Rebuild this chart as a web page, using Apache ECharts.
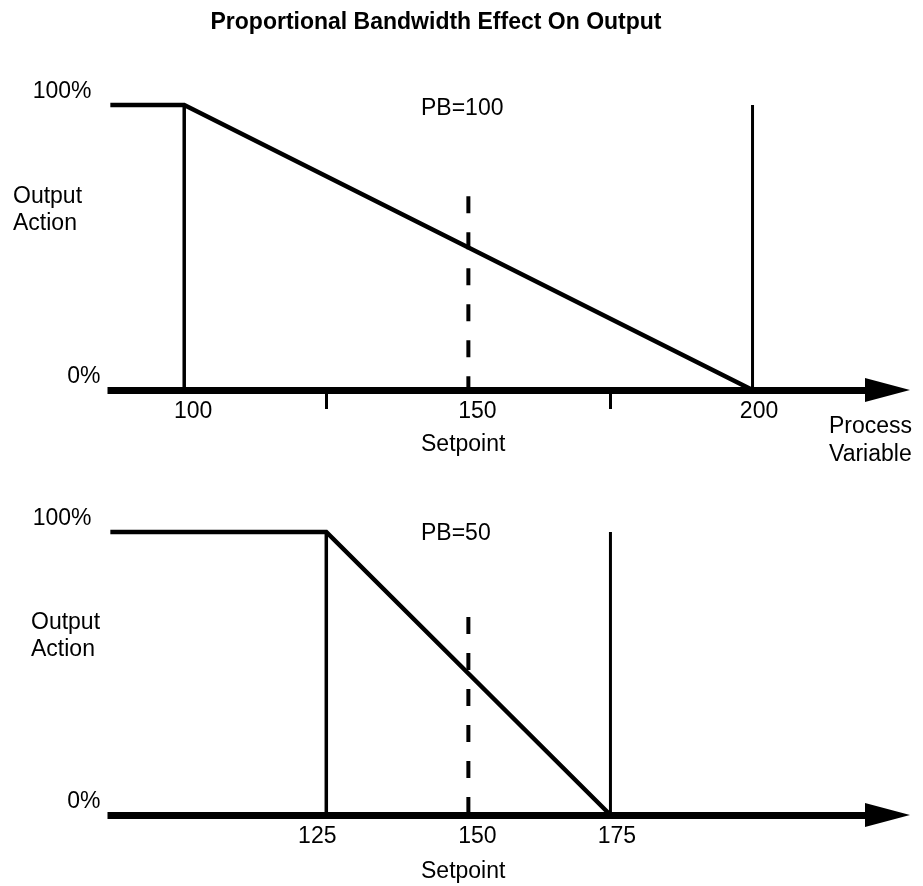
<!DOCTYPE html>
<html>
<head>
<meta charset="utf-8">
<title>Proportional Bandwidth Effect On Output</title>
<script src="https://cdn.jsdelivr.net/npm/echarts@6/dist/echarts.min.js"></script>
<style>
  html, body { margin: 0; padding: 0; background: #fff; }
  #pbChart { width: 923px; height: 886px; }
</style>
</head>
<body>
<div id="pbChart"></div>
<script>
// chart data
const xMin = 86.5;
const xMax = 223.75;
const setpoint = 150;
const yTickLabels = [0, 100];

// PB=100 panel
const xTickLabels1 = [100, 150, 200];
const xMinorTicks1 = [125, 175];
const bandEdges1 = [100, 200];
const outputPB100 = [[87, 100], [100, 100], [200, 0]];
const setpointTop1 = 68;

// PB=50 panel
const xTickLabels2 = [125, 150, 175];
const bandEdges2 = [125, 175];
const outputPB50 = [[87, 100], [125, 100], [175, 0]];
const setpointTop2 = 70;

const FONT = '"Liberation Sans", Arial, sans-serif';
const BLACK = '#000';

function txt(text, left, top, lineHeight, extra) {
  return Object.assign({
    text: text,
    left: left,
    top: top,
    padding: 0,
    textStyle: {
      fontFamily: FONT,
      fontSize: 23,
      fontWeight: 'normal',
      color: BLACK,
      lineHeight: lineHeight
    }
  }, extra || {});
}

// label nudges, the original drawing doesn't centre them exactly on the ticks
const labelRich = {
  r18: { fontFamily: FONT, fontSize: 23, color: BLACK, padding: [0, 0, 0, 18] },
  r13: { fontFamily: FONT, fontSize: 23, color: BLACK, padding: [0, 0, 0, 13] },
  l18: { fontFamily: FONT, fontSize: 23, color: BLACK, padding: [0, 18, 0, 0] }
};

function xAxisFor(gridIndex, labels, minorTicks, nudge) {
  return {
    type: 'value',
    gridIndex: gridIndex,
    min: xMin,
    max: xMax,
    splitLine: { show: false },
    axisLine: {
      show: true,
      symbol: ['none', 'triangle'],
      symbolSize: [24, 45],
      lineStyle: { color: BLACK, width: 7, cap: 'butt' }
    },
    axisTick: {
      show: minorTicks.length > 0,
      customValues: minorTicks,
      length: 19,
      lineStyle: { color: BLACK, width: 3, cap: 'butt' }
    },
    axisLabel: {
      customValues: labels,
      margin: 10,
      fontFamily: FONT,
      fontSize: 23,
      color: BLACK,
      formatter: function (v) {
        const k = nudge[v];
        return k ? '{' + k + '|' + v + '}' : '' + v;
      },
      rich: labelRich
    }
  };
}

function yAxisFor(gridIndex) {
  return {
    type: 'value',
    gridIndex: gridIndex,
    min: 0,
    max: 100,
    splitLine: { show: false },
    axisLine: { show: false },
    axisTick: { show: false },
    axisLabel: {
      customValues: yTickLabels,
      margin: 7,
      verticalAlign: 'bottom',
      fontFamily: FONT,
      fontSize: 23,
      lineHeight: 23,
      color: BLACK,
      padding: [0, 0, 2, 0],
      formatter: function (v) {
        return v === 100 ? '{a|' + v + '%}' : v + '%';
      },
      rich: {
        a: { fontFamily: FONT, fontSize: 23, color: BLACK, padding: [0, 9, 0, 0] }
      }
    }
  };
}

function lineSeries(data, axisIdx, width, dashed) {
  return {
    type: 'line',
    xAxisIndex: axisIdx,
    yAxisIndex: axisIdx,
    data: data,
    symbol: 'none',
    clip: false,
    silent: true,
    lineStyle: {
      color: BLACK,
      width: width,
      type: dashed ? [17, 19] : 'solid',
      join: 'miter',
      cap: 'butt'
    }
  };
}

const series = [
  lineSeries(outputPB100, 0, 4.5),
  lineSeries([[bandEdges1[0], 0], [bandEdges1[0], 100]], 0, 3.5),
  lineSeries([[bandEdges1[1], 0], [bandEdges1[1], 100]], 0, 3),
  lineSeries([[setpoint, setpointTop1], [setpoint, 0]], 0, 4, true),
  lineSeries(outputPB50, 1, 4.5),
  lineSeries([[bandEdges2[0], 0], [bandEdges2[0], 100]], 1, 3.5),
  lineSeries([[bandEdges2[1], 0], [bandEdges2[1], 100]], 1, 3),
  lineSeries([[setpoint, setpointTop2], [setpoint, 0]], 1, 4, true)
];

const chart = echarts.init(document.getElementById('pbChart'));

chart.setOption({
  animation: false,
  backgroundColor: '#fff',
  title: [
    {
      text: 'Proportional Bandwidth Effect On Output',
      left: 436,
      top: 10,
      textAlign: 'center',
      padding: 0,
      textStyle: { fontFamily: FONT, fontSize: 23, fontWeight: 'bold', color: BLACK, lineHeight: 26 }
    },
    txt('PB=100', 421, 97.5, 23),
    txt('Output\nAction', 13, 183.5, 27),
    txt('Setpoint', 421, 433.5, 23),
    txt('Process\nVariable', 829, 413, 28),
    txt('PB=50', 421, 522.5, 23),
    txt('Output\nAction', 31, 609.5, 27),
    txt('Setpoint', 421, 860.5, 23)
  ],
  grid: [
    { left: 107.5, right: 35.5, top: 105, height: 285 },
    { left: 107.5, right: 35.5, top: 532, height: 283 }
  ],
  xAxis: [
    xAxisFor(0, xTickLabels1, xMinorTicks1, { 100: 'r18', 150: 'r18', 200: 'r13' }),
    xAxisFor(1, xTickLabels2, [], { 125: 'l18', 150: 'r18', 175: 'r13' })
  ],
  yAxis: [yAxisFor(0), yAxisFor(1)],
  series: series
});
</script>
</body>
</html>
